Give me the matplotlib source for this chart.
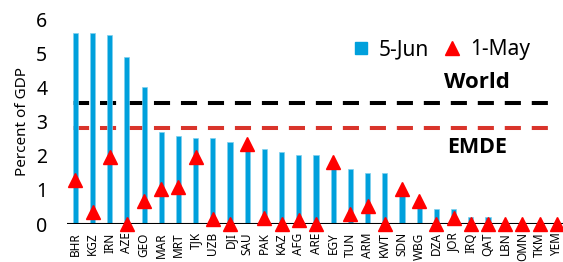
import matplotlib
matplotlib.use("Agg")
import matplotlib.pyplot as plt
from matplotlib.lines import Line2D

plt.rcParams['font.family'] = ['Noto Sans', 'DejaVu Sans']

countries = ["BHR", "KGZ", "IRN", "AZE", "GEO", "MAR", "MRT", "TJK", "UZB", "DJI",
             "SAU", "PAK", "KAZ", "AFG", "ARE", "EGY", "TUN", "ARM", "KWT", "SDN",
             "WBG", "DZA", "JOR", "IRQ", "QAT", "LBN", "OMN", "TKM", "YEM"]
jun5 = [5.61, 5.61, 5.56, 4.92, 4.02, 2.71, 2.59, 2.54, 2.54, 2.42,
        2.30, 2.20, 2.13, 2.02, 2.02, 1.80, 1.61, 1.51, 1.51, 0.95,
        0.62, 0.43, 0.43, 0.20, 0.20, 0.0, 0.0, 0.0, 0.0]
may1 = [1.30, 0.34, 1.98, 0.0, 0.69, 1.03, 1.08, 1.98, 0.15, 0.0,
        2.34, 0.19, 0.0, 0.12, 0.0, 1.81, 0.28, 0.52, 0.0, 1.03,
        0.69, 0.0, 0.17, 0.0, 0.0, 0.0, 0.0, 0.0, 0.0]
world_avg = 3.57
emde_avg = 2.83
yticks = [0, 1, 2, 3, 4, 5, 6]

blue = '#00A0DC'
red = '#FF0000'

fig = plt.figure(figsize=(5.63, 2.62), dpi=100)
ax = fig.add_axes([0.1185, 0.145, 0.8856, 0.779])

x = list(range(len(countries)))
ax.bar(x, jun5, width=0.3, color=blue, edgecolor='#7FD0EE', linewidth=0.5, zorder=2)
ax.plot([-0.12, 27.6], [world_avg, world_avg], color='black', lw=2.9,
        dashes=(4, 2.7), zorder=1)
ax.plot([-0.12, 27.6], [emde_avg, emde_avg], color='#D9342B', lw=2.9,
        dashes=(4, 2.7), zorder=1)
ax.plot(x, may1, linestyle='none', marker='^', markersize=10, color=red,
        zorder=4, clip_on=False)

ax.axhline(0, color='black', lw=1.5, zorder=3)

ax.set_xlim(-0.5, len(countries) - 0.5)
ax.set_ylim(0, 6)
ax.set_yticks(yticks)
ax.set_yticklabels([str(t) for t in yticks], fontsize=14)
ax.set_xticks(x)
ax.set_xticklabels(countries, rotation=90, fontsize=8.5)
ax.tick_params(axis='y', length=0, pad=14)
ax.tick_params(axis='x', length=0, pad=6)
for s in ax.spines.values():
    s.set_visible(False)
ax.set_ylabel("Percent of GDP", fontsize=11, labelpad=4)

ax.text(23.35, 4.16, "World", fontsize=16, fontweight='bold', family='Open Sans',
        ha='center', va='center')
ax.text(23.35, 2.24, "EMDE", fontsize=15.5, fontweight='bold', family='Open Sans',
        ha='center', va='center')

handles = [Line2D([], [], linestyle='none', marker='s', markersize=8, color=blue),
           Line2D([], [], linestyle='none', marker='^', markersize=10, color=red)]
fig.legend(handles, ["5-Jun", "1-May"], loc='center left',
           bbox_to_anchor=(353 / 563, 1 - 50 / 262), frameon=False, ncol=2,
           fontsize=15, handlelength=0.8, handletextpad=0.45, columnspacing=0.7,
           borderpad=0, borderaxespad=0)

fig.savefig("out.png", dpi=100)
